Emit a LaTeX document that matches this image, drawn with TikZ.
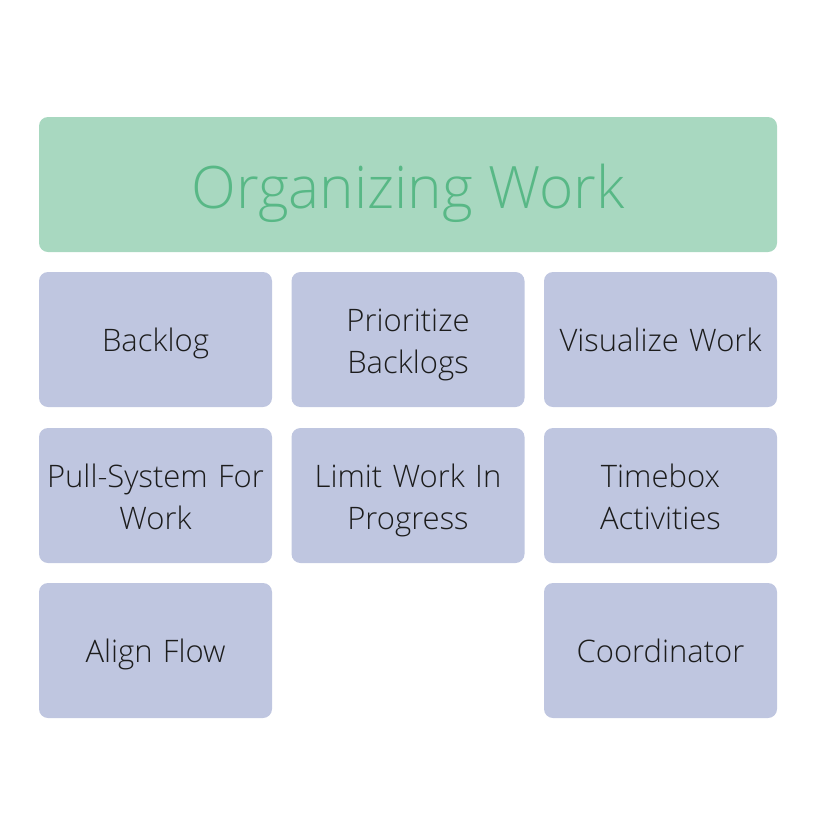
\documentclass[tikz,border=0pt]{standalone}
\usepackage{fontspec}
\setmainfont{Open Sans Light}
\usetikzlibrary{positioning}
\definecolor{titlegreen}{HTML}{A8D8C0}
\definecolor{titletext}{HTML}{58B886}
\definecolor{itemblue}{HTML}{BFC6E0}
\definecolor{itemtext}{HTML}{1C1C1C}
\begin{document}
\begin{tikzpicture}[x=1pt,y=-1pt,
    title node/.style={rectangle,rounded corners=9pt,fill=titlegreen,text=titletext,minimum width=738pt,minimum height=135pt,text height=48pt,text depth=0pt,font=\fontsize{58.5}{70}\selectfont},
    item node/.style={rectangle,rounded corners=9pt,fill=itemblue,text=itemtext,minimum width=233pt,minimum height=135pt,align=center,text width=225pt,text height=24pt,text depth=0pt,font=\fontsize{31}{41.7}\selectfont},
    two line/.style={item node,text depth=40pt}]
  \useasboundingbox (0,0) rectangle (816,836);
  \node[title node] (title) at (408,184.5) {Organizing Work};
  % first row
  \node[item node] (backlog) at (155.5,339.5) {Backlog};
  \node[two line] (prio) at (408,339.5) {Prioritize\\Backlogs};
  \node[item node] (visual) at (660.5,339.5) {Visualize Work};
  % second row
  \node[two line] (pull) at (155.5,495.5) {Pull-System For\\Work};
  \node[two line] (wip) at (408,495.5) {Limit Work In\\Progress};
  \node[two line] (timebox) at (660.5,495.5) {Timebox\\Activities};
  % third row
  \node[item node] (align) at (155.5,650.5) {Align Flow};
  \node[item node] (coord) at (660.5,650.5) {Coordinator};
\end{tikzpicture}
\end{document}
